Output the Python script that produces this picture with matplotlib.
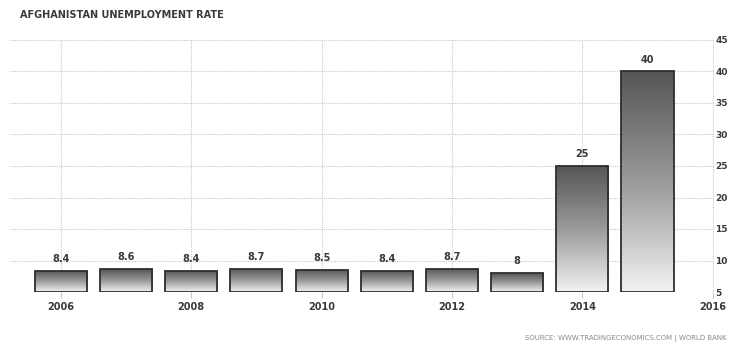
import numpy as np
import matplotlib
matplotlib.use("Agg")
import matplotlib.pyplot as plt
from matplotlib.colors import LinearSegmentedColormap

# Afghanistan unemployment rate (%), World Bank
years = [2006, 2007, 2008, 2009, 2010, 2011, 2012, 2013, 2014, 2015]
rates = [8.4, 8.6, 8.4, 8.7, 8.5, 8.4, 8.7, 8, 25, 40]
value_labels = ["8.4", "8.6", "8.4", "8.7", "8.5", "8.4", "8.7", "8", "25", "40"]
x_ticks = [2006, 2008, 2010, 2012, 2014, 2016]
y_ticks = [5, 10, 15, 20, 25, 30, 35, 40, 45]

title = "AFGHANISTAN UNEMPLOYMENT RATE"
source = "SOURCE: WWW.TRADINGECONOMICS.COM | WORLD BANK"

baseline = 5
text_color = "#3a3a3a"

fig = plt.figure(figsize=(7.3, 3.45), dpi=100)
fig.patch.set_facecolor("white")
ax = fig.add_axes([10 / 730, (345 - 292) / 345, (714 - 10) / 730, (292 - 40) / 345])

# dotted grid at every tick
ax.set_xticks(x_ticks)
ax.set_yticks(y_ticks)
ax.grid(True, color="#c8c8c8", linestyle=(0, (1, 1)), linewidth=0.8)
ax.set_axisbelow(True)
for s in ax.spines.values():
    s.set_visible(False)

ax.yaxis.tick_right()
ax.tick_params(axis="y", length=0, pad=1, labelsize=6.5, labelcolor=text_color)
ax.tick_params(axis="x", length=4, color="#c8c8c8", pad=3, labelsize=7, labelcolor=text_color)
for lab in ax.get_xticklabels() + ax.get_yticklabels():
    lab.set_fontweight("bold")

# bars with a vertical dark-to-light gradient
cmap = LinearSegmentedColormap.from_list("bar_grad", ["#f2f2f2", "#9a9a9a", "#555555"])
grad = np.linspace(0, 1, 256).reshape(-1, 1)
bars = ax.bar(years, [r - baseline for r in rates], bottom=baseline, width=0.8,
              facecolor="none", edgecolor="#2e2e2e", linewidth=1.3, zorder=3)
for bar in bars:
    x0, y0 = bar.get_x(), bar.get_y()
    w, h = bar.get_width(), bar.get_height()
    im = ax.imshow(grad, extent=[x0, x0 + w, y0, y0 + h], origin="lower",
                   cmap=cmap, aspect="auto", zorder=2)
    im.set_clip_path(bar)

ax.set_xlim(2005.22, 2016.02)
ax.set_ylim(5, 45)

for yr, r, lab in zip(years, rates, value_labels):
    ax.annotate(lab, (yr, r), xytext=(0, 5), textcoords="offset points",
                ha="center", va="bottom", fontsize=7, fontweight="bold",
                color=text_color)

fig.text(20 / 730, 1 - 15 / 345, title, fontsize=7, fontweight="bold",
         color="#3a3a3a", ha="left", va="center")
fig.text(727 / 730, 1 - 338 / 345, source, fontsize=5, color="#8a8a8a",
         ha="right", va="center")

fig.savefig("out.png", dpi=100, facecolor="white")
